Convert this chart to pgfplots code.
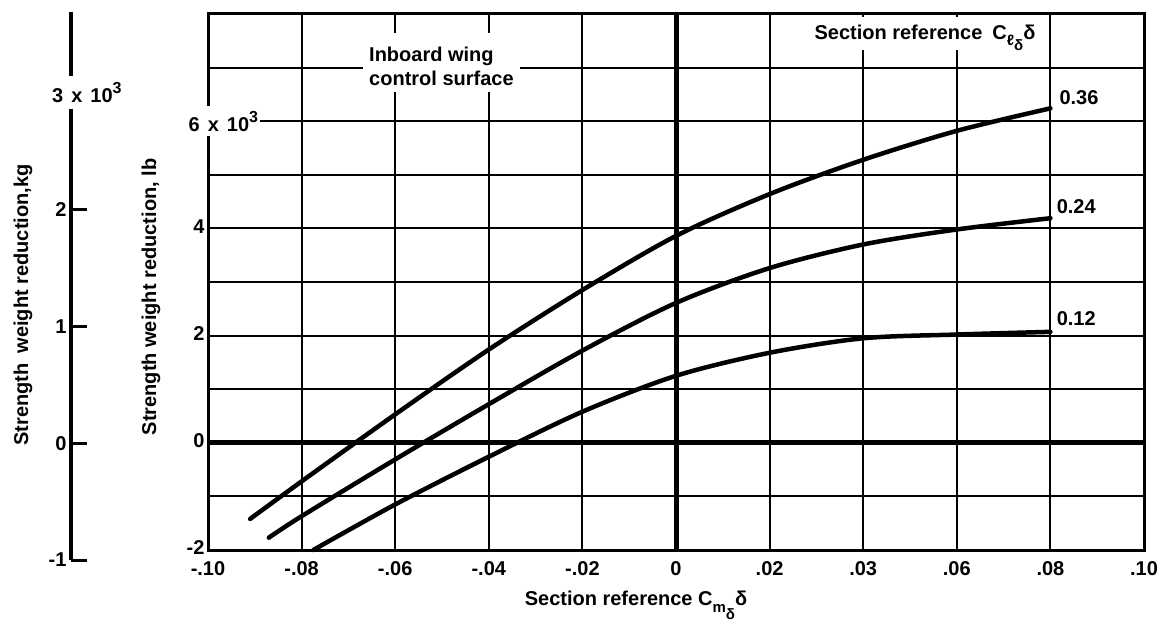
\documentclass[border=0pt]{standalone}
\usepackage{pgfplots}
\pgfplotsset{compat=1.18}
\usepackage{fontspec}
\setmainfont{Liberation Sans}

\newcommand{\lbl}{\fontsize{20}{24}\selectfont\bfseries}
\newcommand{\tenth}{\hspace{0.4em}x\hspace{0.4em}10\raisebox{0.45em}{\fontsize{16}{16}\selectfont 3}}

\begin{document}
\begin{tikzpicture}[x=1pt,y=1pt,font=\lbl]
\useasboundingbox (0,0) rectangle (1170,635);

% kg scale at the far left
\begin{axis}[
  at={(71pt,75pt)}, anchor=south west,
  scale only axis, width=1pt, height=548pt,
  xmin=0, xmax=1, ymin=-1, ymax=3.69,
  clip=false,
  hide x axis, axis y line*=left,
  y axis line style={line width=4pt,-},
  ytick={-1,0,1,2}, yticklabels={-1,0,1,2},
  major tick length=16pt,
  tick style={line width=3pt,black},
  tick label style={font=\lbl},
  yticklabel style={xshift=-1pt},
]
\addplot[draw=none] coordinates {(0,0)};
\node[fill=white,anchor=west,inner xsep=1pt,inner ysep=6pt,xshift=-20pt]
  at (axis cs:0,3) {3\tenth};
\end{axis}

% main chart, lb
\begin{axis}[
  at={(208pt,85pt)}, anchor=south west,
  scale only axis, width=936pt, height=536pt,
  xmin=-0.1, xmax=0.1, ymin=-2, ymax=8,
  clip=false,
  xtick={-0.1,-0.08,-0.06,-0.04,-0.02,0,0.02,0.04,0.06,0.08,0.1},
  xticklabels={-.10,-.08,-.06,-.04,-.02,0,.02,.03,.06,.08,.10},
  ytick={-2,-1,0,1,2,3,4,5,6,7,8},
  yticklabels={-2,,0,,2,,4,,,,},
  grid=major, grid style={black,line width=2pt},
  axis line style={line width=3pt},
  major tick length=0pt,
  tick label style={font=\lbl},
  xticklabel style={yshift=-8pt},
  yticklabel style={yshift=2pt},
  extra x ticks={0}, extra y ticks={0},
  extra x tick labels={}, extra y tick labels={},
  extra tick style={grid style={black,line width=5pt}},
]
% C_l_delta = 0.36
\addplot[black,line width=4.5pt,smooth,line cap=round] coordinates {
  (-0.091,-1.42) (-0.08,-0.72) (-0.06,0.53) (-0.04,1.74) (-0.02,2.85)
  (0.00,3.86) (0.02,4.64) (0.04,5.28) (0.06,5.82) (0.08,6.24)};
% 0.24
\addplot[black,line width=4.5pt,smooth,line cap=round] coordinates {
  (-0.087,-1.77) (-0.08,-1.37) (-0.06,-0.31) (-0.04,0.72) (-0.02,1.72)
  (0.00,2.61) (0.02,3.26) (0.04,3.70) (0.06,3.98) (0.08,4.19)};
% 0.12
\addplot[black,line width=4.5pt,smooth,line cap=round] coordinates {
  (-0.0775,-2.00) (-0.06,-1.15) (-0.04,-0.26) (-0.02,0.58)
  (0.00,1.25) (0.02,1.68) (0.04,1.95) (0.06,2.02) (0.08,2.07)};

\fill[white] (axis cs:-0.0669,6.54) rectangle (axis cs:-0.0333,7.65);
\node[anchor=west,align=left,inner sep=0pt] at (axis cs:-0.0656,7.02)
  {Inboard wing\\control surface};
\fill[white] (axis cs:0.0265,7.33) rectangle (axis cs:0.0788,7.95);
\node at (axis cs:0.0532,7.56)
  {Section reference\enspace C\raisebox{-0.3em}{\fontsize{15}{15}\selectfont ℓ\raisebox{-0.3em}{δ}}δ};
\node[anchor=west] at (axis cs:0.0812,6.44) {0.36};
\node[anchor=west] at (axis cs:0.0806,4.41) {0.24};
\node[anchor=west] at (axis cs:0.0806,2.31) {0.12};
\node[fill=white,anchor=west,inner xsep=2pt,inner ysep=5pt]
  at (axis cs:-0.1046,6) {6\tenth};
\end{axis}

\node[rotate=90] at (23,330) {Strength\enspace weight reduction,kg};
\node[rotate=90] at (151,338) {Strength weight reduction, lb};
\node at (636,30)
  {Section reference C\raisebox{-0.35em}{\fontsize{15}{15}\selectfont m\raisebox{-0.45em}{δ}}δ};
\end{tikzpicture}
\end{document}
